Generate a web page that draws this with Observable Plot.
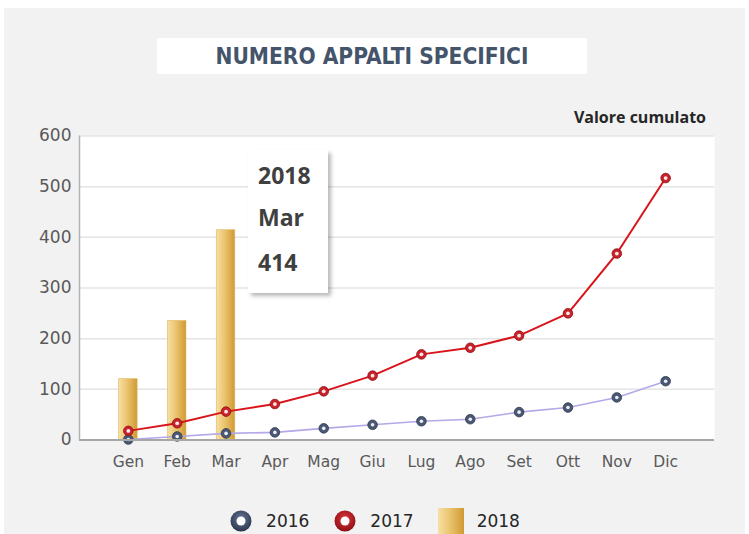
<!DOCTYPE html>
<html><head><meta charset="utf-8">
<script src="https://cdn.jsdelivr.net/npm/d3@7"></script>
<script src="https://cdn.jsdelivr.net/npm/@observablehq/plot@0.6"></script>
<style>
body{margin:0;background:#fff;}
#wrap{position:relative;width:749px;height:534px;overflow:hidden;background:#fff;font-family:"DejaVu Sans",sans-serif;}
#bg{position:absolute;left:4px;top:8px;width:741px;height:526px;background:#f2f2f2;}
#chart{position:absolute;left:0;top:0;}
#title{position:absolute;left:157px;top:38px;width:430px;height:36px;background:#fff;display:flex;align-items:center;justify-content:center;font-family:"DejaVu Sans Condensed","DejaVu Sans",sans-serif;font-weight:bold;font-size:22.5px;color:#44546a;}
#sub{position:absolute;right:43px;top:106px;font-family:"Open Sans",sans-serif;font-weight:bold;font-size:16px;color:#262626;}
#tip{position:absolute;left:248px;top:150px;width:80px;height:143px;background:#fff;box-shadow:3px 3px 4px rgba(0,0,0,0.28);font-family:"Open Sans",sans-serif;font-weight:bold;font-size:23px;color:#404040;}
#tip div{position:absolute;left:10px;}
#legend{position:absolute;left:0;top:508px;width:749px;display:flex;justify-content:center;font-size:17px;color:#262626;}
.li{display:flex;align-items:center;margin:0 12px;}
.li svg{margin-right:13px;}
</style></head>
<body><div id="wrap"><div id="bg"></div><div id="chart"></div>
<div id="title">NUMERO APPALTI SPECIFICI</div>
<div id="sub">Valore cumulato</div>
<div id="tip"></div>
<div id="legend"></div>
</div>
<script>
const months = ["Gen","Feb","Mar","Apr","Mag","Giu","Lug","Ago","Set","Ott","Nov","Dic"];
const v2016 = [1,7,13,15,23,30,37,41,55,64,84,116];
const v2017 = [18,33,56,71,96,127,169,182,206,250,368,517];
const v2018 = [120,235,414];
const yTicks = [0,100,200,300,400,500,600];
const seriesNames = ["2016","2017","2018"];
const tooltip = {series:"2018", month:"Mar", value:414};

const d16 = v2016.map((v,i)=>({i,v}));
const d17 = v2017.map((v,i)=>({i,v}));
const d18 = v2018.map((v,i)=>({i,v}));

const plot = Plot.plot({
  width:749, height:534,
  marginLeft:79, marginRight:35, marginTop:135.5, marginBottom:94.5,
  style:{background:"transparent", fontFamily:"DejaVu Sans, sans-serif", fontSize:"15px", color:"#595959"},
  x:{type:"linear", domain:[-1,12], label:null},
  y:{domain:[0,600], label:null},
  marks:[
    Plot.frame({fill:"white", stroke:null}),
    Plot.gridY(yTicks.slice(1), {stroke:"#e4e4e4", strokeOpacity:1, strokeWidth:1.5}),
    Plot.axisX(d3.range(12), {tickFormat:i=>months[i], tickSize:0, tickPadding:15.5, fontSize:15.5, fill:"#595959", label:null}),
    Plot.axisY(yTicks, {tickSize:0, tickPadding:8, fontSize:17, fill:"#595959", label:null}),
    Plot.rectY(d18, {x1:d=>d.i-0.19, x2:d=>d.i+0.19, y1:0, y2:"v", fill:"url(#gold)", stroke:"#e0b860", strokeWidth:0.6}),
    Plot.line(d16, {x:"i", y:"v", stroke:"#b4a8e8", strokeWidth:1.6}),
    Plot.line(d17, {x:"i", y:"v", stroke:"#d9141b", strokeWidth:2}),
    Plot.dot(d16, {x:"i", y:"v", r:4.8, fill:"#4a5873", stroke:"#2f3a52", strokeWidth:0.8}),
    Plot.dot(d16, {x:"i", y:"v", r:1.8, fill:"#eef0f5", stroke:null}),
    Plot.dot(d17, {x:"i", y:"v", r:4.8, fill:"#c8222a", stroke:"#8e1016", strokeWidth:0.8}),
    Plot.dot(d17, {x:"i", y:"v", r:1.9, fill:"#fbe9ea", stroke:null}),
    Plot.ruleX([-1], {stroke:"#b3b3b3", strokeWidth:1.5}),
    Plot.ruleY([0], {stroke:"#a6a6a6", strokeWidth:2})
  ]
});
const svg = d3.select(plot);
const defs = svg.insert("defs", ":first-child");
const g = defs.append("linearGradient").attr("id","gold").attr("x1","0").attr("x2","1").attr("y1","0").attr("y2","0");
g.append("stop").attr("offset","0%").attr("stop-color","#f7e0a6");
g.append("stop").attr("offset","45%").attr("stop-color","#ebc46f");
g.append("stop").attr("offset","100%").attr("stop-color","#cf9a33");
document.getElementById("chart").appendChild(plot);

// tooltip
const tip = document.getElementById("tip");
[[tooltip.series,9],[tooltip.month,51],[String(tooltip.value),96]].forEach(([t,top])=>{
  const d=document.createElement("div"); d.textContent=t; d.style.top=top+"px"; tip.appendChild(d);
});

// legend
const legend = document.getElementById("legend");
const mk = [
  `<svg width="24" height="24"><defs><radialGradient id="lg1" cx="50%" cy="40%" r="60%"><stop offset="0%" stop-color="#6b7a99"/><stop offset="100%" stop-color="#2b354c"/></radialGradient></defs><circle cx="12" cy="12" r="10.5" fill="url(#lg1)"/><circle cx="12" cy="12" r="4.5" fill="#fff"/></svg>`,
  `<svg width="24" height="24"><defs><radialGradient id="lg2" cx="50%" cy="40%" r="60%"><stop offset="0%" stop-color="#e03a3f"/><stop offset="100%" stop-color="#8e0e14"/></radialGradient></defs><circle cx="12" cy="12" r="10.5" fill="url(#lg2)"/><circle cx="12" cy="12" r="4.5" fill="#fff"/></svg>`,
  `<svg width="26" height="26"><defs><linearGradient id="lg3" x1="0" x2="1"><stop offset="0%" stop-color="#f7e0a6"/><stop offset="45%" stop-color="#ebc46f"/><stop offset="100%" stop-color="#cf9a33"/></linearGradient></defs><rect x="0" y="0" width="26" height="26" fill="url(#lg3)"/></svg>`
];
seriesNames.forEach((n,k)=>{
  const it=document.createElement("div"); it.className="li";
  it.innerHTML = mk[k] + `<span>${n}</span>`;
  legend.appendChild(it);
});
</script></body></html>
